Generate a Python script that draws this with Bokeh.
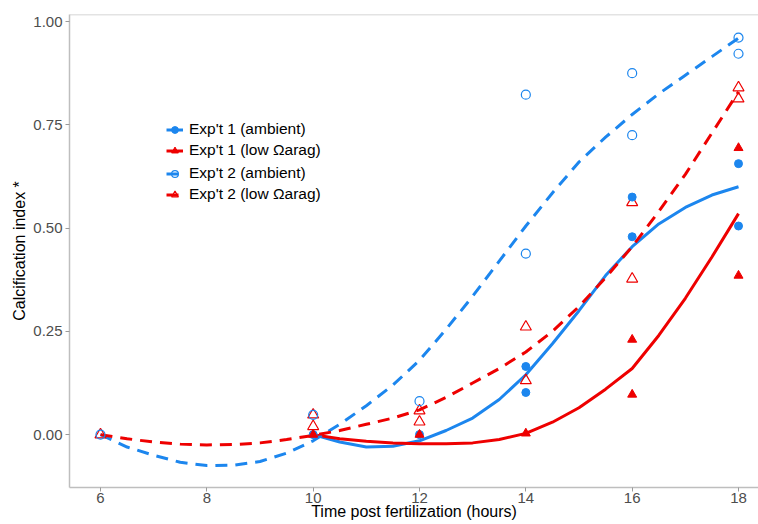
from bokeh.plotting import figure
from bokeh.models import Range1d, FixedTicker, PrintfTickFormatter, Legend, LegendItem, Span
from bokeh.embed import file_html
from bokeh.resources import INLINE

# ---- data ----
x_ticks = [6, 8, 10, 12, 14, 16, 18]
y_ticks = [0.0, 0.25, 0.5, 0.75, 1.0]

# observed points
e1_amb_x = [10, 12, 14, 14, 16, 16, 18, 18]
e1_amb_y = [0.0, 0.0, 0.165, 0.102, 0.575, 0.479, 0.656, 0.505]
e1_low_x = [10, 12, 14, 16, 16, 18, 18]
e1_low_y = [0.0, 0.0, 0.003, 0.23, 0.097, 0.694, 0.385]
e2_amb_x = [6, 10, 12, 14, 14, 16, 16, 18, 18]
e2_amb_y = [0.0, 0.048, 0.081, 0.823, 0.438, 0.875, 0.725, 0.961, 0.922]
e2_low_x = [6, 10, 10, 12, 12, 14, 14, 16, 16, 18, 18]
e2_low_y = [0.0, 0.048, 0.02, 0.058, 0.031, 0.261, 0.131, 0.562, 0.377, 0.84, 0.813]

# smoothed curves
fit1_x = [10, 10.5, 11, 11.5, 12, 12.5, 13, 13.5, 14, 14.5, 15, 15.5, 16, 16.5, 17, 17.5, 18]
fit1_amb = [0.0, -0.018, -0.03, -0.028, -0.015, 0.01, 0.04, 0.085, 0.145, 0.22, 0.30, 0.385, 0.455, 0.51, 0.55, 0.58, 0.60]
fit1_low = [0.0, -0.01, -0.016, -0.02, -0.022, -0.022, -0.02, -0.012, 0.003, 0.03, 0.065, 0.11, 0.16, 0.24, 0.33, 0.43, 0.535]
fit2_x = [6, 6.5, 7, 7.5, 8, 8.5, 9, 9.5, 10, 10.5, 11, 11.5, 12, 12.5, 13, 13.5, 14, 14.5, 15, 15.5, 16, 16.5, 17, 17.5, 18]
fit2_amb = [0.0, -0.03, -0.05, -0.067, -0.075, -0.074, -0.065, -0.045, -0.015, 0.025, 0.07, 0.12, 0.18, 0.255, 0.335, 0.42, 0.505, 0.585, 0.66, 0.72, 0.775, 0.825, 0.87, 0.915, 0.96]
fit2_low = [0.0, -0.01, -0.018, -0.023, -0.025, -0.024, -0.02, -0.012, -0.002, 0.01, 0.025, 0.04, 0.06, 0.09, 0.125, 0.16, 0.20, 0.25, 0.31, 0.38, 0.455, 0.54, 0.63, 0.73, 0.83]

labels = ["Exp't 1 (ambient)", "Exp't 1 (low \u03a9arag)", "Exp't 2 (ambient)", "Exp't 2 (low \u03a9arag)"]
x_title = "Time post fertilization (hours)"
y_title = "Calcification index *"

BLUE = "#1C86EE"
RED = "#EE0000"
FONT = "Liberation Sans"

p = figure(width=758, height=524, output_backend="svg", toolbar_location=None,
           x_range=Range1d(5.417, 18.376), y_range=Range1d(-0.128, 1.017),
           min_border_left=69, min_border_right=0, min_border_top=14, min_border_bottom=37)
p.outline_line_color = None
p.xgrid.visible = False
p.ygrid.visible = False
p.background_fill_color = "white"

# curves
l1a = p.line(fit1_x, fit1_amb, line_color=BLUE, line_width=3)
l1l = p.line(fit1_x, fit1_low, line_color=RED, line_width=3)
l2a = p.line(fit2_x, fit2_amb, line_color=BLUE, line_width=3, line_dash="12 8")
l2l = p.line(fit2_x, fit2_low, line_color=RED, line_width=3, line_dash="12 8")

# points
s2l = p.scatter(e2_low_x, e2_low_y, marker="triangle", size=11, fill_color=None, line_color=RED, line_width=1.2)
s2a = p.scatter(e2_amb_x, e2_amb_y, marker="circle", size=9, fill_color=None, line_color=BLUE, line_width=1.2)
s1a = p.scatter(e1_amb_x, e1_amb_y, marker="circle", size=8, fill_color=BLUE, line_color=BLUE)
s1l = p.scatter(e1_low_x, e1_low_y, marker="triangle", size=9, fill_color=RED, line_color=RED)

# top border
p.add_layout(Span(location=1.017, dimension="width", line_color="#C8C8C8", line_width=1.5))

# axes
for ax in (p.xaxis[0], p.yaxis[0]):
    ax.axis_line_color = "#BEBEBE"
    ax.axis_line_width = 1.5
    ax.major_tick_line_color = "#9A9A9A"
    ax.major_tick_out = 4
    ax.major_tick_in = 0
    ax.minor_tick_line_color = None
    ax.major_label_text_font = FONT
    ax.major_label_text_font_size = "15px"
    ax.major_label_text_color = "#4D4D4D"
    ax.axis_label_text_font = FONT
    ax.axis_label_text_font_size = "16px"
    ax.axis_label_text_font_style = "normal"
    ax.axis_label_text_color = "black"
    ax.major_label_standoff = 3
    ax.axis_label_standoff = 2

p.xaxis.ticker = FixedTicker(ticks=x_ticks)
p.yaxis.ticker = FixedTicker(ticks=y_ticks)
p.yaxis.formatter = PrintfTickFormatter(format="%.2f")
p.xaxis.axis_label = x_title
p.yaxis.axis_label = y_title
p.xaxis.major_label_standoff = 1
p.xaxis.axis_label_standoff = -3

def make_legend(items, loc):
    lg = Legend(items=items, location=loc, orientation="vertical",
                background_fill_alpha=0, border_line_color=None,
                padding=0, margin=0, spacing=3,
                glyph_width=17, glyph_height=17, label_height=17,
                label_standoff=6, label_text_font=FONT, label_text_font_size="15.5px",
                label_text_color="black")
    return lg

leg1 = make_legend([LegendItem(label=labels[0], renderers=[l1a, s1a]),
                    LegendItem(label=labels[1], renderers=[l1l, s1l])], (97, 328))
leg2 = make_legend([LegendItem(label=labels[2], renderers=[l2a, s2a]),
                    LegendItem(label=labels[3], renderers=[l2l, s2l])], (97, 284))
p.add_layout(leg1, "center")
p.add_layout(leg2, "center")

open("out.html", "w").write(file_html(p, INLINE))
